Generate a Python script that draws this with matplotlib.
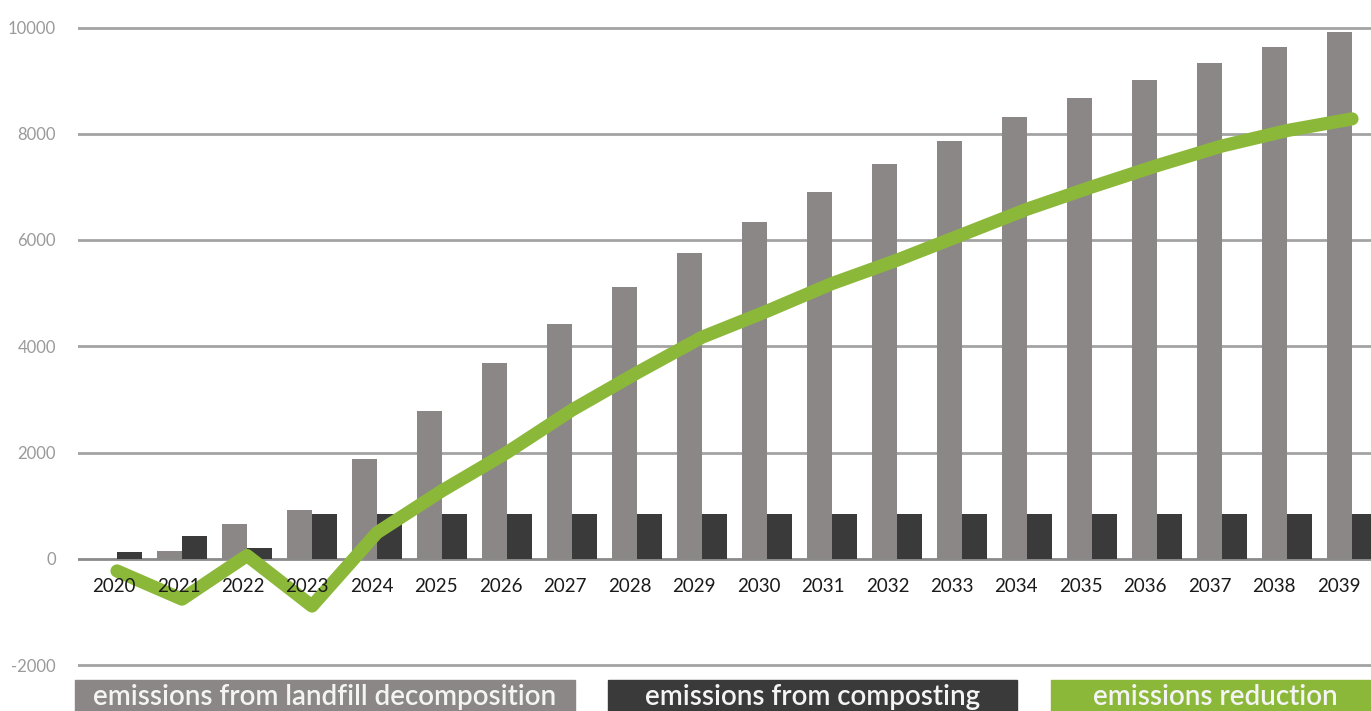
import matplotlib
matplotlib.use("Agg")
import matplotlib.pyplot as plt
from matplotlib.patches import Rectangle
import numpy as np

years = [str(y) for y in range(2020, 2040)]
landfill = [0, 150, 650, 920, 1870, 2780, 3690, 4420, 5110, 5750,
            6330, 6900, 7430, 7870, 8320, 8680, 9020, 9340, 9630, 9910]
composting = [130, 420, 200, 840, 840, 840, 840, 840, 840, 840,
              840, 840, 840, 840, 840, 840, 840, 840, 840, 840]
reduction = [-230, -760, 60, -890, 490, 1280, 2000, 2800, 3500, 4170,
             4660, 5180, 5620, 6100, 6580, 7000, 7400, 7770, 8060, 8280]
yticks = [-2000, 0, 2000, 4000, 6000, 8000, 10000]
legend_labels = ["emissions from landfill decomposition",
                 "emissions from composting", "emissions reduction"]

C_LIGHT = "#8b8786"
C_DARK = "#3a3a3a"
C_GREEN = "#8cb83a"
C_GRID = "#a3a3a3"

plt.rcParams['font.family'] = ['Lato', 'DejaVu Sans']

W, H = 1371, 711
fig = plt.figure(figsize=(W / 100, H / 100), dpi=100)

# axes geometry in pixels
x_left = 78
spacing = 65.0
xlim = (-0.6, len(years) - 0.4)
ax_w = (xlim[1] - xlim[0]) * spacing
ylim = (-2100, 10100)
ppu = 637.5 / 12000
y_top_px = 27.5 - 100 * ppu
y_bot_px = 665 + 100 * ppu
ax = fig.add_axes([x_left / W, (H - y_bot_px) / H, ax_w / W, (y_bot_px - y_top_px) / H])
ax.set_xlim(*xlim)
ax.set_ylim(*ylim)

x = np.arange(len(years))
bw = 0.385
for t in yticks:
    ax.axhline(t, color=C_GRID if t != 0 else "#8a8a8a", lw=2, zorder=1)
ax.bar(x - bw / 2, landfill, width=bw, color=C_LIGHT, zorder=2)
ax.bar(x + bw / 2, composting, width=bw, color=C_DARK, zorder=2)
ax.plot(x, reduction, color=C_GREEN, lw=9.5, solid_capstyle='round',
        solid_joinstyle='round', zorder=4)

for s in ax.spines.values():
    s.set_visible(False)
ax.set_xticks([])
ax.set_yticks(yticks)
ax.set_yticklabels([str(t) for t in yticks], fontsize=12, color="#9a9a9a")
ax.tick_params(axis='y', length=0, pad=16)

for i, yr in enumerate(years):
    ax.annotate(yr, xy=(i, 0), xytext=(-3 - 0.55 * i, -28), textcoords='offset pixels',
                ha='center', va='center', fontsize=13.5, color="#1a1a1a", zorder=5)

# legend boxes
boxes = [(75, 575, C_LIGHT), (608, 1017, C_DARK), (1051, 1380, C_GREEN)]
for (x0, x1, col), lab in zip(boxes, legend_labels):
    fig.patches.append(Rectangle((x0 / W, 0), (x1 - x0) / W, (H - 680) / H,
                                 transform=fig.transFigure, color=col, zorder=1))
    fig.text((x0 + x1) / 2 / W, 6 / H, lab, ha='center', va='baseline',
             fontsize=20, fontweight='semibold', color="#f4f4f4")

fig.savefig("out.png", dpi=100)
